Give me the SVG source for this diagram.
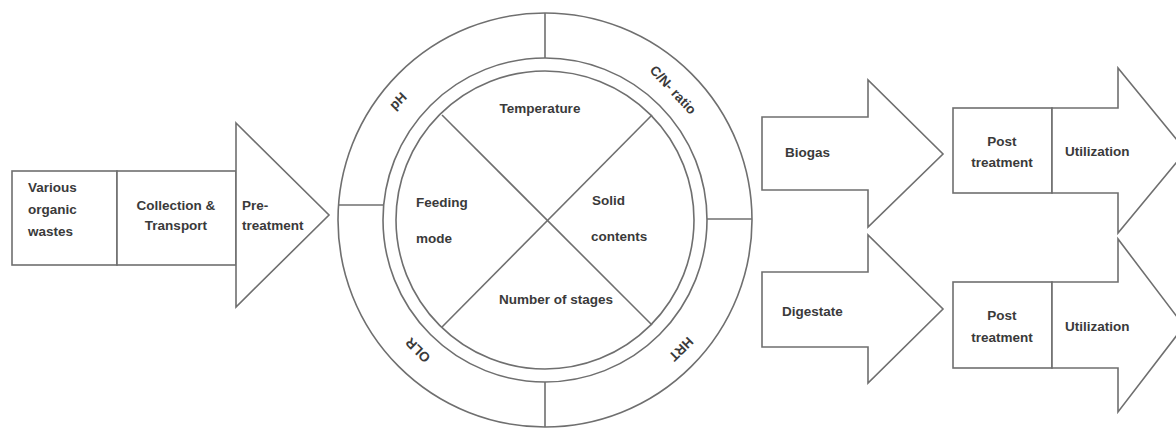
<svg xmlns="http://www.w3.org/2000/svg" width="1176" height="430" viewBox="0 0 1176 430">
  <style>
    .shape { fill: #ffffff; stroke: #6f6f6f; stroke-width: 1.6; stroke-linejoin: miter; }
    .line { fill: none; stroke: #6f6f6f; stroke-width: 1.6; }
    .lbl { font-family: "Liberation Sans", Arial, sans-serif; font-weight: bold; font-size: 13.5px; fill: #3a3a3a; dominant-baseline: central; }
    .mid { text-anchor: middle; }
  </style>
  <rect width="1176" height="430" fill="#ffffff"/>

  <!-- Feedstock chain: wastes, collection, pre-treatment -->
  <g id="wastes">
    <rect class="shape" x="12" y="171" width="105" height="94"/>
    <text class="lbl" x="28" y="187">Various</text>
    <text class="lbl" x="28" y="209">organic</text>
    <text class="lbl" x="28" y="231">wastes</text>
  </g>
  <g id="collection">
    <rect class="shape" x="117" y="171" width="119" height="94"/>
    <text class="lbl mid" x="176" y="205">Collection &amp;</text>
    <text class="lbl mid" x="176" y="225">Transport</text>
  </g>
  <g id="pretreatment">
    <polygon class="shape" points="236,123 329,215 236,307"/>
    <text class="lbl" x="242" y="205">Pre-</text>
    <text class="lbl" x="242" y="225">treatment</text>
  </g>

  <!-- Digester: process parameters ring and operating conditions -->
  <g id="parameters-ring">
    <circle class="shape" cx="545" cy="220" r="207"/>
    <circle class="shape" cx="545" cy="220" r="162"/>
    <line class="line" x1="545" y1="13" x2="545" y2="58"/>
    <line class="line" x1="545" y1="382" x2="545" y2="427"/>
    <line class="line" x1="338" y1="205" x2="384" y2="205"/>
    <line class="line" x1="707" y1="219" x2="752" y2="219"/>
    <text class="lbl mid" transform="translate(398,101) rotate(-45)">pH</text>
    <text class="lbl mid" transform="translate(673,90) rotate(47)">C/N- ratio</text>
    <text class="lbl mid" transform="translate(418,350) rotate(225)">OLR</text>
    <text class="lbl mid" transform="translate(681,349) rotate(135)">HRT</text>
  </g>
  <g id="conditions">
    <circle class="shape" cx="545" cy="220" r="149"/>
    <line class="line" x1="442" y1="115" x2="652" y2="325"/>
    <line class="line" x1="652" y1="115" x2="442" y2="327"/>
    <text class="lbl mid" x="540" y="108">Temperature</text>
    <text class="lbl" x="416" y="202">Feeding</text>
    <text class="lbl" x="416" y="238">mode</text>
    <text class="lbl" x="592" y="200">Solid</text>
    <text class="lbl" x="591" y="236">contents</text>
    <text class="lbl mid" x="556" y="299">Number of stages</text>
  </g>

  <!-- Products -->
  <g id="biogas">
    <polygon class="shape" points="762,117 868,117 868,80 943,154 868,227 868,190 762,190"/>
    <text class="lbl" x="785" y="152">Biogas</text>
  </g>
  <g id="digestate">
    <polygon class="shape" points="762,272 868,272 868,235 943,309 868,383 868,347 762,347"/>
    <text class="lbl" x="782" y="311">Digestate</text>
  </g>

  <!-- Downstream handling of biogas -->
  <g id="biogas-post">
    <rect class="shape" x="953" y="108" width="99" height="85"/>
    <text class="lbl mid" x="1002" y="141">Post</text>
    <text class="lbl mid" x="1002" y="162">treatment</text>
  </g>
  <g id="biogas-use">
    <polygon class="shape" points="1052,108 1118,108 1118,68 1186,151 1118,233 1118,193 1052,193"/>
    <text class="lbl" x="1065" y="151">Utilization</text>
  </g>

  <!-- Downstream handling of digestate -->
  <g id="digestate-post">
    <rect class="shape" x="953" y="282" width="99" height="86"/>
    <text class="lbl mid" x="1002" y="315">Post</text>
    <text class="lbl mid" x="1002" y="337">treatment</text>
  </g>
  <g id="digestate-use">
    <polygon class="shape" points="1052,282 1118,282 1118,239 1184,326 1118,412 1118,368 1052,368"/>
    <text class="lbl" x="1065" y="326">Utilization</text>
  </g>
</svg>
